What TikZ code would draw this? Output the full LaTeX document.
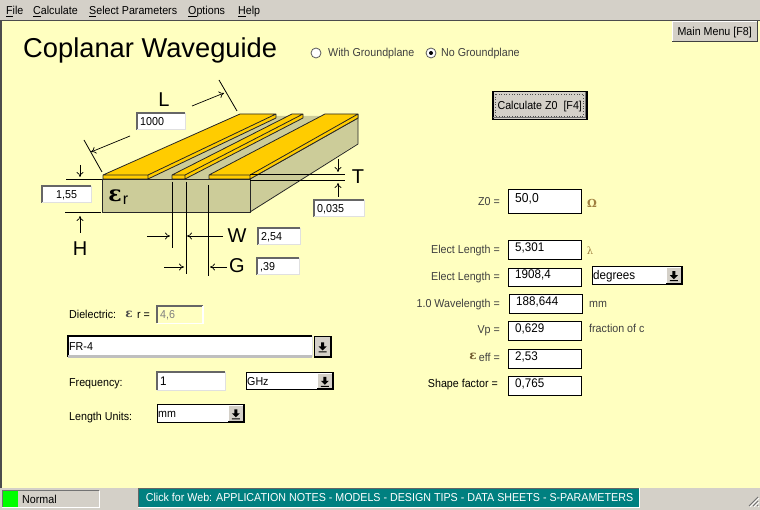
\documentclass[tikz,border=0pt]{standalone}
\usepackage{fontspec}
\setmainfont[FakeStretch=0.93]{Liberation Sans}
\newfontfamily\plainf{Liberation Sans}
\newfontfamily\symfont{DejaVu Serif}
\usetikzlibrary{arrows.meta}
\definecolor{panel}{HTML}{FFFFC0}
\definecolor{chrome}{HTML}{D4D0C8}
\definecolor{sub}{HTML}{CCCC99}
\definecolor{gold}{HTML}{FFCC00}
\definecolor{teal2}{HTML}{008080}
\definecolor{labc}{HTML}{404040}
\definecolor{omeg}{HTML}{A08040}
\tikzset{
 txt/.style={inner sep=0pt,text height=9pt,text depth=1pt,font=\fontsize{11.5}{13}\selectfont},
 big/.style={inner sep=0pt,font=\plainf\fontsize{20}{21}\selectfont},
 lab/.style={txt,anchor=east,text=labc},
 outl/.style={draw=black!85,line width=.8pt,line join=round},
 dim/.style={line width=.8pt,draw=black},
 arr/.style={line width=.7pt,draw=black,-{To[length=5pt,width=7pt]}},
 fieldbox/.style={anchor=north west,inner sep=0pt,fill=white,draw=black,line width=1pt},
 sunkbox/.style={anchor=north west,inner sep=0pt,fill=white,draw=none},
}
\newcommand{\rv}[1]{\raisebox{2.5pt}{\fontsize{12.5}{14}\selectfont #1}}
% #1 name, #2 x1, #3 y1, #4 x2, #5 y2, #6 style, #7 text, #8 text indent
\newcommand{\fieldat}[8]{%
 \node[#6,minimum width=#4pt-#2pt,minimum height=#5pt-#3pt] (#1) at (#2,#3) {};
 \node[txt,anchor=west,xshift=#8pt] (#1t) at (#1.west) {#7};}
\newcommand{\sunk}[8]{%
 \fieldat{#1}{#2}{#3}{#4}{#5}{sunkbox}{#7}{#8}
 \draw[color=#6,line width=1.2pt] (#2,#5) -- (#2,#3) -- (#4,#3);
 \draw[color=black!12,line width=1pt] (#4,#3) -- (#4,#5) -- (#2,#5);}
\newcommand{\dropbtn}[4]{%
 \fill[chrome] (#1,#2) rectangle (#3,#4);
 \draw[white,line width=.8pt] (#1,#4) -- (#1,#2) -- (#3,#2);
 \draw[black,line width=1pt] (#1,#4) -- (#3,#4) -- (#3,#2);
 \fill[black] ({(#1+#3)/2-1.5},{(#2+#4)/2-4}) rectangle ({(#1+#3)/2+1.5},{(#2+#4)/2})
   ({(#1+#3)/2-4},{(#2+#4)/2}) -- ({(#1+#3)/2+4},{(#2+#4)/2}) -- ({(#1+#3)/2},{(#2+#4)/2+4}) -- cycle
   ({(#1+#3)/2-4},{(#2+#4)/2+5}) rectangle ({(#1+#3)/2+4},{(#2+#4)/2+6});}
\begin{document}
\begin{tikzpicture}[x=1pt,y=-1pt]
\useasboundingbox (0,0) rectangle (760,510);
% window
\fill[chrome] (0,0) rectangle (760,510);
\fill[panel] (2,21) rectangle (760,488);
\draw[black!70,line width=1.5pt] (1,488) -- (1,20.5) -- (760,20.5);
% menu
\foreach \n/\x/\s in {mfile/6/{\underline{F}ile},mcalc/33/{\underline{C}alculate},msel/89/{\underline{S}elect Parameters},mopt/188/{\underline{O}ptions},mhelp/238/{\underline{H}elp}}
  \node[txt,anchor=west] (\n) at (\x,11) {\s};
% main menu
\node[anchor=north west,inner sep=0pt,fill=chrome,minimum width=85pt,minimum height=20pt] (mainmenu) at (672,21) {};
\draw[black!75,line width=1pt] (672,41.5) -- (757.5,41.5) -- (757.5,21);
\draw[white,line width=.8pt] (672,41) -- (672,21.5) -- (757,21.5);
\node[txt] (mainmenut) at (mainmenu.center) {Main Menu [F8]};
% title
\node[inner sep=0pt,anchor=base west,font=\plainf\fontsize{27.3}{30}\selectfont] (title) at (23,58) {Coplanar Waveguide};
% radios
\node[circle,draw=black!65,fill=white,line width=.8pt,minimum size=10pt,inner sep=0pt] (r1) at (316,53) {};
\node[txt,anchor=west,text=labc] (r1t) at (328,53) {With Groundplane};
\node[circle,draw=black!65,fill=white,line width=.8pt,minimum size=10pt,inner sep=0pt] (r2) at (431,53) {};
\fill[black] (r2) circle (2pt);
\node[txt,anchor=west,text=labc] (r2t) at (441,53) {No Groundplane};
% waveguide
\fill[sub] (102,179) -- (240,116) -- (358,116) -- (358,143) -- (250,212) -- (102,212) -- cycle;
\draw[outl] (102,179) rectangle (250,212);
\draw[outl] (250,212) -- (358,144) -- (358,114);
\draw[outl] (250,179) -- (358,118);
% left strip
\fill[gold] (103,175) -- (240,114) -- (276,114) -- (276,118) -- (148,179) -- (103,179) -- cycle;
\draw[outl] (103,179) -- (103,175) -- (240,114) -- (276,114) -- (276,118) -- (148,179) -- (103,179) (103,175) -- (148,175) -- (148,179) (148,175) -- (276,114);
% centre strip
\fill[gold] (172,175) -- (292,114) -- (303,114) -- (303,118) -- (185,179) -- (172,179) -- cycle;
\draw[outl] (172,179) -- (172,175) -- (292,114) -- (303,114) -- (303,118) -- (185,179) -- cycle (172,175) -- (185,175) -- (185,179) (185,175) -- (303,114);
% right strip
\fill[gold] (209,175) -- (325,114) -- (358,114) -- (358,118) -- (250,179) -- (209,179) -- cycle;
\draw[outl] (209,179) -- (209,175) -- (325,114) -- (358,114) -- (358,118) -- (250,179) -- cycle (209,175) -- (250,175) -- (250,179) (250,175) -- (358,114);
% epsilon r
\node[inner sep=0pt,font=\fontsize{22}{24}\selectfont\bfseries] (epsr) at (115,196) {\symfont ε};
\node[inner sep=0pt,font=\plainf\fontsize{16}{17}\selectfont] (epsr2) at (125.5,200) {r};
% dimension lines
\draw[dim] (219,80) -- (237,111);
\draw[dim] (84,140) -- (102,172);
\draw[dim] (250,174) -- (345,174) (250,180) -- (345,180);
\draw[dim] (66,179) -- (102,179) (65,212) -- (101,212);
\draw[dim] (172,182) -- (172,248) (186,182) -- (186,274) (208,185) -- (208,276);
\coordinate (la1) at (192,106); \coordinate (la2) at (224,93);
\coordinate (lb1) at (130,136); \coordinate (lb2) at (91,152);
\coordinate (ta1) at (338,159); \coordinate (ta2) at (338,172);
\coordinate (tb1) at (338,197); \coordinate (tb2) at (338,183);
\coordinate (ha1) at (80,165); \coordinate (ha2) at (80,177);
\coordinate (hb1) at (80,233); \coordinate (hb2) at (80,216);
\coordinate (wa1) at (147,236); \coordinate (wa2) at (170,236);
\coordinate (wb1) at (223,236); \coordinate (wb2) at (187,236);
\coordinate (ga1) at (164,267); \coordinate (ga2) at (184,267);
\coordinate (gb1) at (227,267); \coordinate (gb2) at (210,267);
\foreach \a in {la,lb,ta,tb,ha,hb,wa,wb,ga,gb} \draw[arr] (\a1) -- (\a2);
\node[big] (lL) at (164,100) {L};
\node[big] (lT) at (358,177) {T};
\node[big] (lH) at (80,249) {H};
\node[big] (lW) at (237,236) {W};
\node[big] (lG) at (237,266) {G};
% dimension boxes
\sunk{bl}{137}{113}{185}{130}{black!60}{1000}{3}
\sunk{bh}{42}{186}{91}{203}{black!60}{1,55}{14}
\sunk{bt}{314}{200}{364}{217}{black!60}{0,035}{3}
\sunk{bw}{258}{228}{300}{245}{black!60}{2,54}{3}
\sunk{bg}{257}{258}{299}{275}{black!60}{,39}{3}
% left form
\node[txt,anchor=west] (ld) at (69,315) {Dielectric:};
\node[inner sep=0pt,font=\fontsize{12}{13}\selectfont\bfseries,text=black!70] (lde) at (129,314) {\symfont ε};
\node[txt,anchor=west] (ldr) at (137,315) {r =};
\draw[black!60,line width=1.2pt] (157,323) -- (157,306) -- (203,306);
\draw[white,line width=1.2pt] (203,306) -- (203,323.5) -- (157,323.5);
\node[txt,anchor=west,text=black!50] (beps) at (160,314.5) {4,6};
\sunk{bdi}{68}{336}{312}{357}{black}{FR-4}{1}
\draw[black!25,line width=2.5pt] (68,356.5) -- (312,356.5);
\dropbtn{314.5}{336.5}{330.5}{356.5}
\node[draw=black,line width=1pt,anchor=north west,minimum width=17pt,minimum height=21pt,inner sep=0pt] (bdibo) at (314,336) {};
\node[txt,anchor=west] (lf) at (69,382) {Frequency:};
\sunk{bf}{157}{372}{225}{390}{black!60}{\fontsize{12.5}{14}\selectfont 1}{3}
\fieldat{cf}{246}{372}{333}{389}{fieldbox}{GHz}{1}
\dropbtn{317}{373}{332.5}{388.5}
\node[txt,anchor=west] (lu) at (69,416) {Length Units:};
\fieldat{cu}{157}{404}{244}{422}{fieldbox}{mm}{1}
\dropbtn{228}{405}{243.5}{421.5}
% calculate
\node[anchor=north west,inner sep=0pt,draw=black,line width=1.5pt,fill=chrome,minimum width=94pt,minimum height=28pt] (calc) at (492,91) {};
\draw[black!70,dotted,line width=.6pt] (495,94) rectangle (583,116);
\draw[black!55,line width=1pt] (493,118) -- (585,118) -- (585,92);
\node[txt] (calct) at (calc.center) {Calculate Z0\ \ [F4]};
% results
\fieldat{z0}{508}{189}{581}{213}{fieldbox}{\raisebox{3pt}{\fontsize{13}{15}\selectfont 50,0}}{7}
\node[lab] (lz0) at (500,202) {Z0 =};
\node[inner sep=0pt,font=\fontsize{11}{12}\selectfont\bfseries,text=omeg] (om) at (592,203) {\symfont Ω};
\fieldat{el}{508}{240}{581}{259}{fieldbox}{\rv{5,301}}{7}
\node[lab] (lel) at (500,250) {Elect Length =};
\node[inner sep=0pt,font=\fontsize{10}{12}\selectfont,text=omeg] (lam) at (590,251) {\symfont λ};
\fieldat{ed}{508}{268}{581}{286}{fieldbox}{\rv{1908,4}}{7}
\node[lab] (led) at (500,277) {Elect Length =};
\fieldat{deg}{592}{266}{682}{284}{fieldbox}{\fontsize{12.5}{14}\selectfont degrees}{1}
\dropbtn{666}{267}{681.5}{283.5}
\fieldat{wl}{509}{294}{582}{313}{fieldbox}{\rv{188,644}}{7}
\node[lab] (lwl) at (500,304) {1.0 Wavelength =};
\node[txt,anchor=west,text=labc] (mm) at (589,304) {mm};
\fieldat{vp}{508}{321}{581}{340}{fieldbox}{\rv{0,629}}{7}
\node[lab] (lvp) at (500,330) {Vp =};
\node[txt,anchor=west,text=labc] (fc) at (589,329) {fraction of c};
\fieldat{ee}{508}{349}{581}{368}{fieldbox}{\rv{2,53}}{7}
\node[lab] (lee) at (500,357) {eff =};
\node[inner sep=0pt,font=\fontsize{12}{13}\selectfont\bfseries,text=omeg!70!black] (eee) at (473,356) {\symfont ε};
\fieldat{sf}{508}{376}{581}{395}{fieldbox}{\rv{0,765}}{7}
\node[txt,anchor=east] (lsf) at (498,384) {Shape factor =};
% status bar
\draw[black!55,line width=1pt] (2,507) -- (2,490.5) -- (99,490.5);
\draw[white,line width=1pt] (99,490.5) -- (99,507.5) -- (2,507.5);
\fill[green] (3,491) rectangle (18,507);
\node[txt,anchor=west] (st) at (22,499) {Normal};
\node[anchor=north west,inner sep=0pt,fill=teal2,draw=black!60,line width=1pt,minimum width=501pt,minimum height=19pt] (web) at (138,488) {};
\draw[white,line width=.8pt] (138,507.5) -- (639.5,507.5) -- (639.5,488);
\node[txt,text=white,xshift=.5pt,yshift=1pt] (webt) at (web.center) {Click for Web: APPLICATION NOTES - MODELS - DESIGN TIPS - DATA SHEETS - S-PARAMETERS};
% grip
\foreach \d in {0,4,8}{
 \draw[black!55,line width=1pt] (758,497+\d) -- (749+\d,506);
 \draw[white,line width=.7pt] (759,498+\d) -- (750+\d,507);
}
\end{tikzpicture}
\end{document}
